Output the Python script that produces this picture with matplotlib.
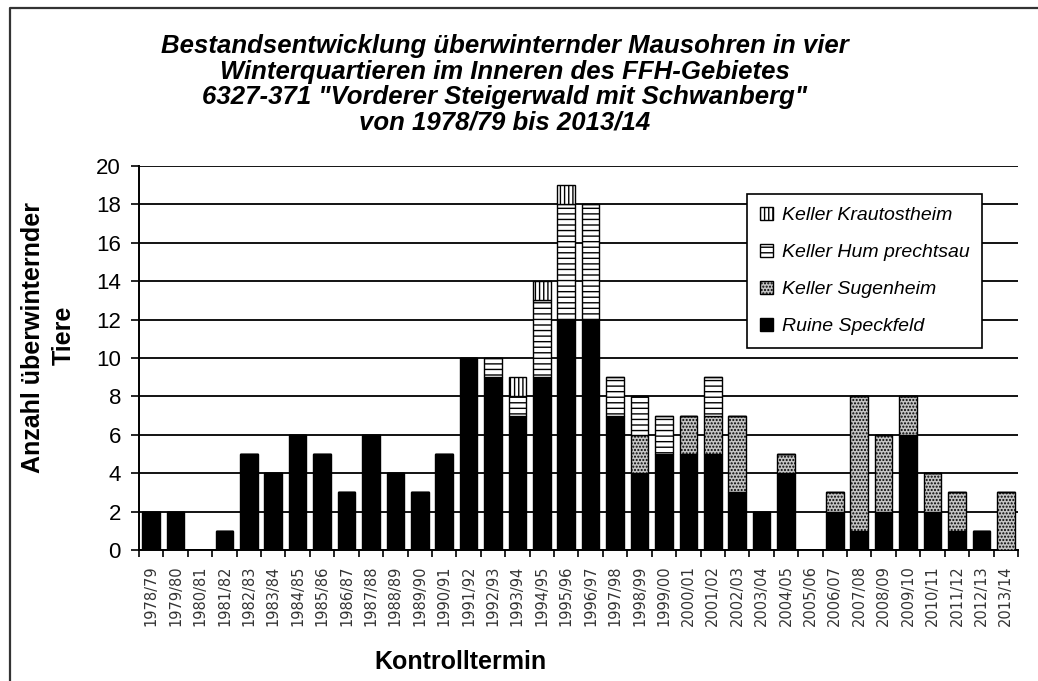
import matplotlib
matplotlib.use('Agg')
import matplotlib.pyplot as plt
from matplotlib.lines import Line2D
import numpy as np

plt.rcParams['font.family'] = ['Liberation Sans', 'DejaVu Sans']
plt.rcParams['hatch.linewidth'] = 1.0

# Wintersaisons 1978/79 .. 2013/14
seasons = ['1978/79', '1979/80', '1980/81', '1981/82', '1982/83', '1983/84',
           '1984/85', '1985/86', '1986/87', '1987/88', '1988/89', '1989/90',
           '1990/91', '1991/92', '1992/93', '1993/94', '1994/95', '1995/96',
           '1996/97', '1997/98', '1998/99', '1999/00', '2000/01', '2001/02',
           '2002/03', '2003/04', '2004/05', '2005/06', '2006/07', '2007/08',
           '2008/09', '2009/10', '2010/11', '2011/12', '2012/13', '2013/14']

speckfeld    = [2, 2, 0, 1, 5, 4, 6, 5, 3, 6, 4, 3, 5, 10, 9, 7, 9, 12,
                12, 7, 4, 5, 5, 5, 3, 2, 4, 0, 2, 1, 2, 6, 2, 1, 1, 0]
sugenheim    = [0, 0, 0, 0, 0, 0, 0, 0, 0, 0, 0, 0, 0, 0, 0, 0, 0, 0,
                0, 0, 2, 0, 2, 2, 4, 0, 1, 0, 1, 7, 4, 2, 2, 2, 0, 3]
humprechtsau = [0, 0, 0, 0, 0, 0, 0, 0, 0, 0, 0, 0, 0, 0, 1, 1, 4, 6,
                6, 2, 2, 2, 0, 2, 0, 0, 0, 0, 0, 0, 0, 0, 0, 0, 0, 0]
krautostheim = [0, 0, 0, 0, 0, 0, 0, 0, 0, 0, 0, 0, 0, 0, 0, 1, 1, 1,
                0, 0, 0, 0, 0, 0, 0, 0, 0, 0, 0, 0, 0, 0, 0, 0, 0, 0]

series = [
    ('Ruine Speckfeld', speckfeld, dict(facecolor='black', hatch=None)),
    ('Keller Sugenheim', sugenheim, dict(facecolor='#c4c4c4', hatch='.....')),
    ('Keller Hum prechtsau', humprechtsau, dict(facecolor='white', hatch='---')),
    ('Keller Krautostheim', krautostheim, dict(facecolor='white', hatch='||||')),
]

fig = plt.figure(figsize=(10.38, 6.81), dpi=100)
ax = fig.add_axes([0.1339, 0.1924, 0.8468, 0.5639])

x = np.arange(len(seasons))
width = 0.72
bottom = np.zeros(len(seasons))
handles = []
for name, vals, style in series:
    vals = np.array(vals, dtype=float)
    bars = ax.bar(x, vals, width, bottom=bottom, edgecolor='black',
                  linewidth=1.0, label=name, zorder=3, **style)
    handles.append(bars)
    bottom += vals

ax.set_xlim(-0.5, len(seasons) - 0.5)
ax.set_ylim(0, 20)
ax.set_yticks(np.arange(0, 21, 2))
ax.yaxis.grid(True, color='black', linewidth=1.3, zorder=0)
ax.set_axisbelow(True)

ax.set_xticks(x)
ax.set_xticklabels(seasons, rotation=90, fontsize=10.5, color='#333333',
                   family='DejaVu Sans')
ax.set_xticks(np.arange(-0.5, len(seasons), 1), minor=True)
ax.tick_params(axis='x', which='major', length=0, pad=11)
ax.tick_params(axis='x', which='minor', length=5, width=1.2, direction='out')
ax.tick_params(axis='y', length=6, width=1.2, direction='out', pad=7,
               labelsize=16)

for s in ['top', 'right']:
    ax.spines[s].set_visible(False)
for s in ['left', 'bottom']:
    ax.spines[s].set_linewidth(1.4)

leg = ax.legend(handles[::-1], [h.get_label() for h in handles[::-1]],
                loc='upper left', bbox_to_anchor=(0.7197, 0.7151),
                bbox_transform=fig.transFigure, borderaxespad=0,
                frameon=True, fancybox=False, framealpha=1,
                edgecolor='black', handlelength=0.7, handleheight=0.7,
                handletextpad=0.45, labelspacing=1.0, borderpad=0.65,
                prop={'style': 'italic', 'size': 14})
leg.get_frame().set_linewidth(1.2)
leg.set_zorder(5)

title_lines = ['Bestandsentwicklung überwinternder Mausohren in vier',
               'Winterquartieren im Inneren des FFH-Gebietes',
               '6327-371 "Vorderer Steigerwald mit Schwanberg"',
               'von 1978/79 bis 2013/14']
for i, line in enumerate(title_lines):
    fig.text(505 / 1038, 1 - (53 + 25.5 * i) / 681, line, ha='center',
             va='baseline', fontsize=18.5, fontweight='bold', style='italic')

fig.text(33 / 1038, 1 - 337 / 681, 'Anzahl überwinternder', rotation=90,
         ha='center', va='center', fontsize=18, fontweight='bold')
fig.text(64 / 1038, 1 - 335 / 681, 'Tiere', rotation=90,
         ha='center', va='center', fontsize=18, fontweight='bold')
fig.text(460 / 1038, 1 - 662 / 681, 'Kontrolltermin', ha='center',
         va='center', fontsize=18, fontweight='bold')

# outer frame (top and left edge)
fig.add_artist(Line2D([10 / 1038, 10 / 1038, 1], [0, 1 - 8 / 681, 1 - 8 / 681],
                      transform=fig.transFigure, color='#333333', linewidth=1.6))

fig.savefig('out.png', dpi=100)
